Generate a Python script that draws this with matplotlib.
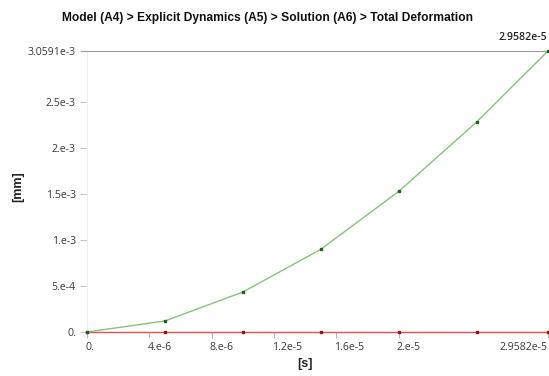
import matplotlib
matplotlib.use("Agg")
import matplotlib.pyplot as plt
import matplotlib.transforms as mtransforms

# Data
time_s = [0.0, 5.0e-6, 1.0e-5, 1.5e-5, 2.0e-5, 2.5e-5, 2.9582e-5]
total_def = [0.0, 1.2e-4, 4.35e-4, 9.0e-4, 1.53e-3, 2.286e-3, 3.0591e-3]
minimum_def = [0.0, 0.0, 0.0, 0.0, 0.0, 0.0, 0.0]

x_ticks = [0.0, 4e-6, 8e-6, 1.2e-5, 1.6e-5, 2e-5, 2.9582e-5]
x_tick_labels = ["0.", "4.e-6", "8.e-6", "1.2e-5", "1.6e-5", "2.e-5", "2.9582e-5"]
y_ticks = [0.0, 5e-4, 1e-3, 1.5e-3, 2e-3, 2.5e-3, 3.0591e-3]
y_tick_labels = ["0.", "5.e-4", "1.e-3", "1.5e-3", "2.e-3", "2.5e-3", "3.0591e-3"]

title = "Model (A4) > Explicit Dynamics (A5) > Solution (A6) > Total Deformation"

fig = plt.figure(figsize=(5.49, 3.76), dpi=100)
ax = fig.add_axes([87/549, 1-332/376, (548-87)/549, (332-51)/376])

ax.plot(time_s, total_def, color="#86c27a", lw=1.0, marker="s", ms=1.6,
        mfc="#1f5f1f", mec="#1f5f1f", zorder=3, clip_on=False)
ax.plot(time_s, minimum_def, color="#d9534f", lw=1.0, marker="s", ms=1.6,
        mfc="#a01010", mec="#a01010", zorder=2, clip_on=False)

ax.set_xlim(0, time_s[-1])
ax.set_ylim(0, total_def[-1])

tick_font = dict(family="Open Sans", size=7.6, color="#3a3a3a")
ax.set_xticks(x_ticks)
ax.set_xticklabels(x_tick_labels, ha="left", **tick_font)
ax.set_yticks(y_ticks)
ax.set_yticklabels(y_tick_labels, **tick_font)
ax.tick_params(axis="x", length=4, width=0.6, color="#aaaaaa", pad=3)
ax.tick_params(axis="y", length=5, width=0.6, color="#bbbbbb", pad=3)

labs = ax.get_xticklabels()
for i, lab in enumerate(labs):
    dx = -2/100 if i < len(labs) - 1 else -49/100
    lab.set_transform(lab.get_transform() + mtransforms.ScaledTranslation(dx, 0, fig.dpi_scale_trans))

for s in ["right", "bottom"]:
    ax.spines[s].set_visible(False)
ax.spines["top"].set_color("#999999")
ax.spines["top"].set_linewidth(0.8)
ax.spines["left"].set_color("#eeeeee")
ax.spines["left"].set_linewidth(0.8)
ax.plot([-0.014, 0], [1, 1], transform=ax.transAxes, color="#999999", lw=0.8, clip_on=False)

fig.text(268/549, 1-18/376, title, ha="center", va="center",
         family="Liberation Sans", weight="bold", size=8.65, color="#111111")
fig.text(547/549, 1-37/376, "2.9582e-5", ha="right", va="center",
         family="Open Sans", weight="semibold", size=7.6, color="#222222")
ax.set_xlabel("[s]", family="Liberation Sans", weight="bold", size=9, color="#222222")
ax.set_ylabel("[mm]", family="Liberation Sans", weight="bold", size=9, color="#222222")
ax.xaxis.label.set_va("center")
ax.yaxis.label.set_va("center")
ax.xaxis.set_label_coords((305-87)/461, -(364-332)/281)
ax.yaxis.set_label_coords(-(87-18)/461, (332-187)/281)

fig.savefig("out.png", dpi=100)
